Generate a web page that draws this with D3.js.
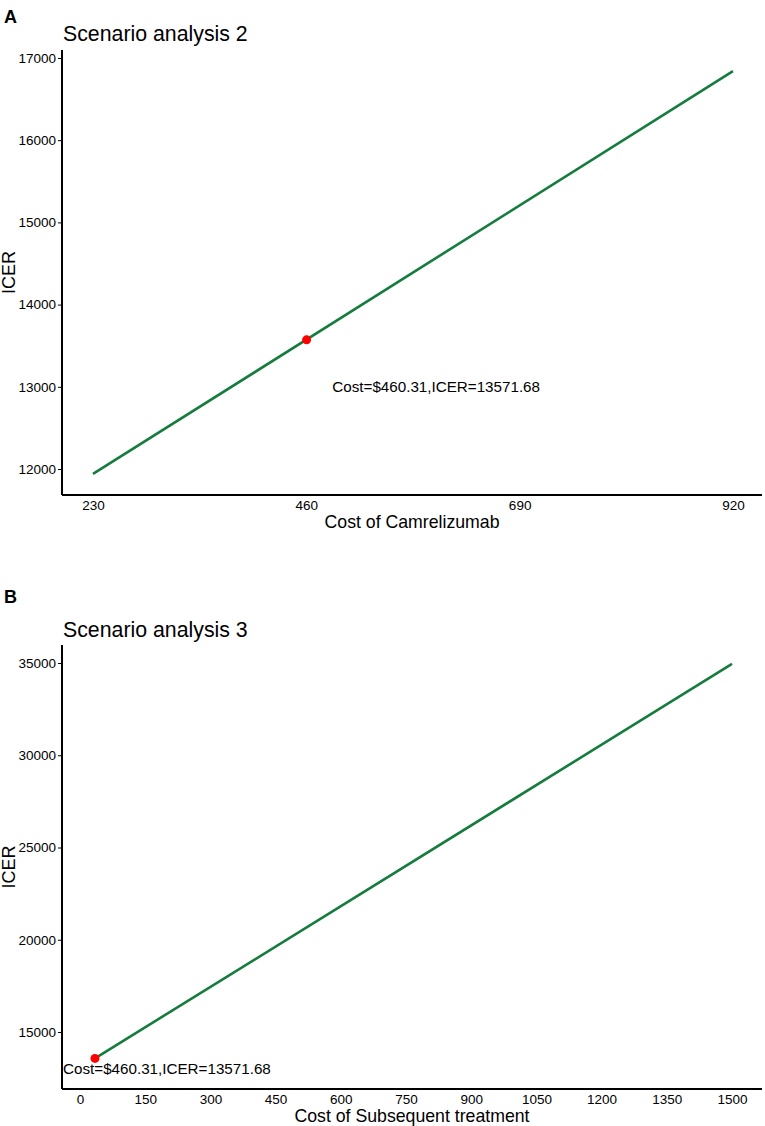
<!DOCTYPE html>
<html>
<head>
<meta charset="utf-8">
<script src="https://cdn.jsdelivr.net/npm/d3@7"></script>
<style>
  body { margin: 0; background: #fff; }
  svg text { font-family: "Liberation Sans", Arial, sans-serif; fill: #000; }
</style>
</head>
<body>
<div id="chart"></div>
<script>
// panel A: scenario analysis 2
var costCamrelizumab = [230, 920];
var icerA = [11940, 16840];
var baseA = [460.31, 13571.68];
var labelPosA = [600, 13000];
var xTicksA = [230, 460, 690, 920];
var yTicksA = [12000, 13000, 14000, 15000, 16000, 17000];

// panel B: scenario analysis 3
var costSubsequent = [34.5, 1500];
var icerB = [13571.68, 34950];
var baseB = [34.5, 13571.68];
var labelPosB = [200, 13000];
var xTicksB = [0, 150, 300, 450, 600, 750, 900, 1050, 1200, 1350, 1500];
var yTicksB = [15000, 20000, 25000, 30000, 35000];

var baseLabel = "Cost=$460.31,ICER=13571.68";

function init(){
	var w = 765;
	var h = 1126;
	var green = "#157c3e";

	var svg = d3.select("#chart")
				.append("svg")
				.attr("width", w)
				.attr("height", h);

	var panels = [
		{tag: "A", title: "Scenario analysis 2", xTitle: "Cost of Camrelizumab",
		 xs: costCamrelizumab, ys: icerA, base: baseA, lab: labelPosA,
		 xTicks: xTicksA, yTicks: yTicksA,
		 xDom: [196.6, 951.3], yDom: [11684, 17097], top: 50, bottom: 495, tagY: 23, titleY: 41},
		{tag: "B", title: "Scenario analysis 3", xTitle: "Cost of Subsequent treatment",
		 xs: costSubsequent, ys: icerB, base: baseB, lab: labelPosB,
		 xTicks: xTicksB, yTicks: yTicksB,
		 xDom: [-41.4, 1569], yDom: [11912, 35975], top: 645, bottom: 1089, tagY: 603, titleY: 637}
	];

	var left = 62, right = 762;

	panels.forEach(function(p){
		var g = svg.append("g");

		var x = d3.scaleLinear().domain(p.xDom).range([left, right]);
		var y = d3.scaleLinear().domain(p.yDom).range([p.bottom, p.top]);

		g.append("text")
			.attr("x", 4)
			.attr("y", p.tagY)
			.attr("font-size", 18)
			.attr("font-weight", "bold")
			.text(p.tag);

		g.append("text")
			.attr("x", 63)
			.attr("y", p.titleY)
			.attr("font-size", 21.3)
			.text(p.title);

		// line
		var pts = p.xs.map(function(d, i){ return [d, p.ys[i]]; });
		g.append("path")
			.datum(pts)
			.attr("fill", "none")
			.attr("stroke", green)
			.attr("stroke-width", 2.6)
			.attr("d", d3.line()
				.x(function(d){ return x(d[0]); })
				.y(function(d){ return y(d[1]); }));

		// base case point
		g.append("circle")
			.attr("cx", x(p.base[0]))
			.attr("cy", y(p.base[1]))
			.attr("r", 4.5)
			.attr("fill", "red");

		g.append("text")
			.attr("x", x(p.lab[0]))
			.attr("y", y(p.lab[1]))
			.attr("dy", "0.35em")
			.attr("text-anchor", "middle")
			.attr("font-size", 15.2)
			.text(baseLabel);

		// axes
		var xAxis = g.append("g")
			.attr("transform", "translate(0," + p.bottom + ")")
			.call(d3.axisBottom(x).tickValues(p.xTicks).tickSize(0).tickPadding(5).tickFormat(d3.format("d")));
		var yAxis = g.append("g")
			.attr("transform", "translate(" + left + ",0)")
			.call(d3.axisLeft(y).tickValues(p.yTicks).tickSize(4).tickPadding(2).tickFormat(d3.format("d")));

		[xAxis, yAxis].forEach(function(a){
			a.attr("font-size", null).attr("font-family", null);
			a.select(".domain").attr("stroke", "#000").attr("stroke-width", 2);
			a.selectAll(".tick line").attr("stroke", "#000").attr("stroke-width", 1);
			a.selectAll(".tick text")
				.attr("fill", "#000")
				.style("font-size", "13.5px")
				.style("font-family", "'Liberation Sans', Arial, sans-serif");
		});
		xAxis.select(".domain").attr("d", "M" + left + ",0H" + right);
		yAxis.select(".domain").attr("d", "M0," + p.top + "V" + p.bottom);

		g.append("text")
			.attr("x", (left + right) / 2)
			.attr("y", p.bottom + 33)
			.attr("text-anchor", "middle")
			.attr("font-size", 17.7)
			.text(p.xTitle);

		g.append("text")
			.attr("transform", "translate(15," + ((p.top + p.bottom) / 2) + ") rotate(-90)")
			.attr("text-anchor", "middle")
			.attr("font-size", 18)
			.text("ICER");
	});
}

window.onload = init;
</script>
</body>
</html>
